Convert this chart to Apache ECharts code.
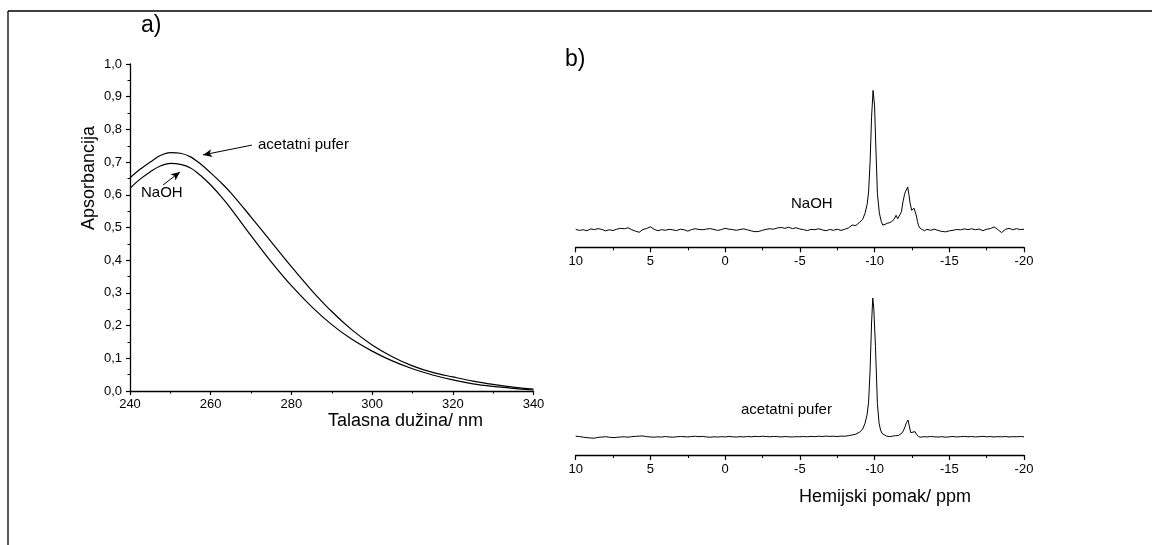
<!DOCTYPE html>
<html>
<head>
<meta charset="utf-8">
<script src="https://cdn.jsdelivr.net/npm/echarts@6/dist/echarts.min.js"></script>
<style>
html,body{margin:0;padding:0;background:#fff;}
#c{width:1152px;height:545px;}
</style>
</head>
<body>
<div id="c"></div>
<script>
// ---- UV-Vis (a) ----
const wavelength = [240,242.5,245,247.5,250,252.5,255,257.5,260,262.5,265,270,275,280,285,290,295,300,305,310,315,320,325,330,335,340];
const absAcetat = [0.652,0.678,0.700,0.720,0.729,0.727,0.716,0.694,0.667,0.638,0.606,0.532,0.456,0.380,0.308,0.243,0.187,0.141,0.105,0.077,0.057,0.043,0.030,0.020,0.012,0.006];
const absNaOH   = [0.620,0.648,0.670,0.688,0.696,0.693,0.682,0.659,0.630,0.596,0.558,0.475,0.395,0.322,0.258,0.203,0.158,0.122,0.092,0.068,0.049,0.034,0.022,0.014,0.008,0.003];
const uvXTicks = [240,260,280,300,320,340];
const uvYTicks = [0,0.1,0.2,0.3,0.4,0.5,0.6,0.7,0.8,0.9,1.0];

// ---- NMR (b) ----
const ppmLeft = [10,9.75,9.5,9.25, 9,8.75,8.5,8.25, 8,7.75,7.5,7.25, 7,6.75,6.5,6.25, 6,5.75,5.5,5.25,
  5,4.75,4.5,4.25, 4,3.75,3.5,3.25, 3,2.75,2.5,2.25, 2,1.75,1.5,1.25, 1,0.75,0.5,0.25,
  0,-0.25,-0.5,-0.75, -1,-1.25,-1.5,-1.75, -2,-2.25,-2.5,-2.75, -3,-3.25,-3.5,-3.75,
  -4,-4.25,-4.5,-4.75, -5,-5.25,-5.5,-5.75, -6,-6.25,-6.5,-6.75, -7,-7.25,-7.5,-7.75, -8,-8.25];
const ppmRight = [-13.5,-13.75,-14,-14.25,-14.5,-14.75,-15,-15.25,-15.5,-15.75,-16,-16.25,-16.5,-16.75,
  -17,-17.25,-17.5,-17.75,-18,-18.25,-18.5,-18.75,-19,-19.25,-19.5,-19.75,-20];

const naohLeftInt = [0.5,-0.3,0.2,-0.5, 0.8,0.3,1.0,0.4, -0.6,0.2,-0.4,0.6, 1.2,0.9,1.6,0.2, -0.8,-1.6,0.4,1.1,
  2.3,0.5,-0.5,0.3, -0.2,0.5,0.1,-0.4, 0.6,0.2,-0.8,0.3, 0.9,0.4,0.2,0.7, 1.0,0.4,-0.3,0.3,
  1.2,0.6,0.3,-0.2, 0.4,0.8,0.1,-0.6, -1.2,-1.0,-0.2,0.5, 0.9,0.6,1.5,1.8,
  1.2,2.0,1.0,1.6, 0.7,0.3,-0.4,0.5, 0.2,0.9,0.1,-0.5, 0.4,-0.2,0.6,-0.3, 0.5,1.5];
const naohPeakPpm = [-8.5,-8.6,-8.75,-9.0,-9.2,-9.36,-9.5,-9.6,-9.7,-9.8,-9.9,-9.92,-10.0,-10.08,-10.19,-10.32,-10.45,-10.55,
  -10.7,-10.85,-11.0,-11.15,-11.3,-11.44,-11.55,-11.65,-11.8,-11.9,-12.0,-12.06,-12.15,-12.22,-12.3,-12.38,-12.48,-12.56,
  -12.64,-12.71,-12.8,-12.87,-12.95,-13.05,-13.2,-13.35];
const naohPeakInt = [3.5,2.5,3.2,5.5,7.5,11.8,18,27,48,80,99,100,88,61,26,12,6,3.5,
  4.0,4.8,5.2,6.0,7.5,10.4,8,8.5,13,20,25,27,28,30.5,25,19,14,13,
  15.5,14.7,10,6,3,1.2,0.3,-0.5];
const naohRightInt = [0.5,-0.2,0.6,-0.3,-1.0,-1.3,-0.6,-0.2,0.4,0.1,0.8,0.3,0.9,0.2,
  0.7,-0.5,0.6,1.0,2.2,0.3,-1.8,0.4,1.2,0.2,1.0,0.3,0.6];

const acetLeftInt = [0.5,0.3,-0.2,-0.5, -0.8,-0.9,-0.3,-0.1, 0.2,-0.2,-0.5,-0.3, 0.0,0.1,-0.2,0.2, 0.4,0.6,0.7,0.2,
  0.0,-0.2,0.1,-0.1, 0.3,0.0,-0.2,0.1, 0.3,0.2,0.0,0.3, 0.5,0.2,0.4,0.0, -0.2,0.1,-0.1,0.2,
  0.0,0.3,0.1,-0.1, 0.2,0.0,0.3,0.1, 0.4,0.2,0.5,0.3, 0.1,0.4,0.2,0.0,
  0.3,0.1,0.0,0.2, 0.1,0.3,0.1,0.4, 0.2,0.5,0.3,0.6, 0.4,0.5,0.3,0.6, 0.5,0.9];
const acetPeakPpm = [-8.5,-8.75,-9.0,-9.2,-9.36,-9.5,-9.6,-9.7,-9.8,-9.88,-9.95,-10.06,-10.19,-10.3,-10.4,-10.5,-10.6,
  -10.8,-11.0,-11.2,-11.4,-11.6,-11.7,-11.85,-11.95,-12.04,-12.14,-12.24,-12.32,-12.42,-12.55,-12.71,-12.8,-12.94,-13.1,-13.3];
const acetPeakInt = [1.4,2.0,3.5,5.5,9.8,16,25,48,82,100,92,65,24,10,5,2.5,1.4,
  0.6,0.2,0.6,0.9,1.0,1.4,3,5,7.4,10.5,12.2,8,3.1,2.5,3.8,2.0,0.2,-0.2,0.2];
const acetRightInt = [0.0,0.3,0.1,-0.1,0.2,-0.2,0.1,0.3,0.0,0.2,0.4,0.1,0.3,0.0,
  0.2,0.4,0.1,0.3,0.0,0.2,0.1,0.3,0.0,0.2,0.1,0.3,0.1];

function pairs(xs, ys){ return xs.map((x,i)=>[x, ys[i]]); }
const uvAcetData = pairs(wavelength, absAcetat);
const uvNaOHData = pairs(wavelength, absNaOH);
const naohData = pairs(ppmLeft, naohLeftInt).concat(pairs(naohPeakPpm, naohPeakInt), pairs(ppmRight, naohRightInt));
const acetData = pairs(ppmLeft, acetLeftInt).concat(pairs(acetPeakPpm, acetPeakInt), pairs(ppmRight, acetRightInt));

const FONT = 'Liberation Sans, Arial, sans-serif';
const BLACK = '#000';
const TICKFS = 13;

function nmrXAxis(gi){
  return {
    gridIndex: gi, type: 'value', inverse: true, min: -20, max: 10, interval: 5,
    axisLine: {show: true, onZero: false, lineStyle: {color: BLACK, width: 1.3}},
    axisTick: {show: true, inside: false, length: 5, lineStyle: {color: BLACK, width: 1.2}},
    minorTick: {show: true, splitNumber: 2, length: 3, lineStyle: {color: BLACK, width: 1}},
    splitLine: {show: false}, minorSplitLine: {show: false},
    axisLabel: {color: BLACK, fontSize: TICKFS, fontFamily: FONT, margin: 8}
  };
}

const chart = echarts.init(document.getElementById('c'), null, {renderer: 'canvas'});
chart.setOption({
  animation: false,
  backgroundColor: '#fff',
  grid: [
    {left: 130, top: 64, width: 403.5, height: 327},
    {left: 575.7, top: 89, width: 448.3, height: 158.3},
    {left: 575.7, top: 298, width: 448.3, height: 157}
  ],
  xAxis: [
    {
      gridIndex: 0, type: 'value', min: 240, max: 340, interval: 20,
      axisLine: {show: true, onZero: false, lineStyle: {color: BLACK, width: 1.3}},
      axisTick: {show: true, inside: false, length: 4, lineStyle: {color: BLACK, width: 1.2}},
      minorTick: {show: true, splitNumber: 2, length: 2.5, lineStyle: {color: BLACK, width: 1}},
      splitLine: {show: false},
      axisLabel: {color: BLACK, fontSize: TICKFS, fontFamily: FONT, margin: 7,
        formatter: v => uvXTicks.includes(v) ? String(v) : ''}
    },
    nmrXAxis(1),
    nmrXAxis(2)
  ],
  yAxis: [
    {
      gridIndex: 0, type: 'value', min: 0, max: 1.0, interval: 0.1,
      axisLine: {show: true, onZero: false, lineStyle: {color: BLACK, width: 1.3}},
      axisTick: {show: true, inside: false, length: 4, lineStyle: {color: BLACK, width: 1.2}},
      minorTick: {show: true, splitNumber: 2, length: 2.5, lineStyle: {color: BLACK, width: 1}},
      splitLine: {show: false},
      axisLabel: {color: BLACK, fontSize: TICKFS, fontFamily: FONT, margin: 8,
        formatter: v => uvYTicks.some(t => Math.abs(t - v) < 1e-9) ? v.toFixed(1).replace('.', ',') : ''}
    },
    {gridIndex: 1, type: 'value', min: -12.25, max: 100, show: false},
    {gridIndex: 2, type: 'value', min: -13, max: 100, show: false}
  ],
  series: [
    {
      name: 'acetatni pufer', type: 'line', xAxisIndex: 0, yAxisIndex: 0, data: uvAcetData,
      smooth: 0.35, showSymbol: false, symbol: 'none', lineStyle: {color: BLACK, width: 1.2},
      markLine: {
        silent: true, symbol: ['none', 'arrow'], symbolSize: [6, 9],
        label: {show: false},
        lineStyle: {color: BLACK, width: 1, type: 'solid'},
        data: [
          [{coord: [270.2, 0.752]}, {coord: [258.1, 0.722]}],
          [{coord: [248.2, 0.630]}, {coord: [252.4, 0.670]}]
        ]
      }
    },
    {
      name: 'NaOH', type: 'line', xAxisIndex: 0, yAxisIndex: 0, data: uvNaOHData,
      smooth: 0.35, showSymbol: false, symbol: 'none', lineStyle: {color: BLACK, width: 1.2}
    },
    {
      name: 'NaOH NMR', type: 'line', xAxisIndex: 1, yAxisIndex: 1, data: naohData,
      showSymbol: false, symbol: 'none', lineStyle: {color: BLACK, width: 1}
    },
    {
      name: 'acetatni pufer NMR', type: 'line', xAxisIndex: 2, yAxisIndex: 2, data: acetData,
      showSymbol: false, symbol: 'none', lineStyle: {color: BLACK, width: 1}
    }
  ],
  graphic: [
    {type: 'line', shape: {x1: 8, y1: 11, x2: 1152, y2: 11}, style: {stroke: BLACK, lineWidth: 1.3}},
    {type: 'line', shape: {x1: 8, y1: 11, x2: 8, y2: 545}, style: {stroke: BLACK, lineWidth: 1.3}},
    {type: 'text', left: 141, top: 14, style: {text: 'a)', font: '23px ' + FONT, fill: BLACK}},
    {type: 'text', left: 565, top: 48, style: {text: 'b)', font: '23px ' + FONT, fill: BLACK}},
    {type: 'text', left: 258, top: 137, style: {text: 'acetatni pufer', font: '15px ' + FONT, fill: BLACK}},
    {type: 'text', left: 141, top: 185, style: {text: 'NaOH', font: '15px ' + FONT, fill: BLACK}},
    {type: 'text', left: 791, top: 196, style: {text: 'NaOH', font: '15px ' + FONT, fill: BLACK}},
    {type: 'text', left: 741, top: 402, style: {text: 'acetatni pufer', font: '15px ' + FONT, fill: BLACK}},
    {type: 'text', left: 328, top: 412, style: {text: 'Talasna dužina/ nm', font: '18px ' + FONT, fill: BLACK}},
    {type: 'text', left: 799, top: 488, style: {text: 'Hemijski pomak/ ppm', font: '18px ' + FONT, fill: BLACK}},
    {type: 'text', x: 89, y: 178, rotation: Math.PI / 2,
      style: {text: 'Apsorbancija', font: '18px ' + FONT, fill: BLACK, align: 'center', verticalAlign: 'middle'}}
  ]
});
</script>
</body>
</html>
